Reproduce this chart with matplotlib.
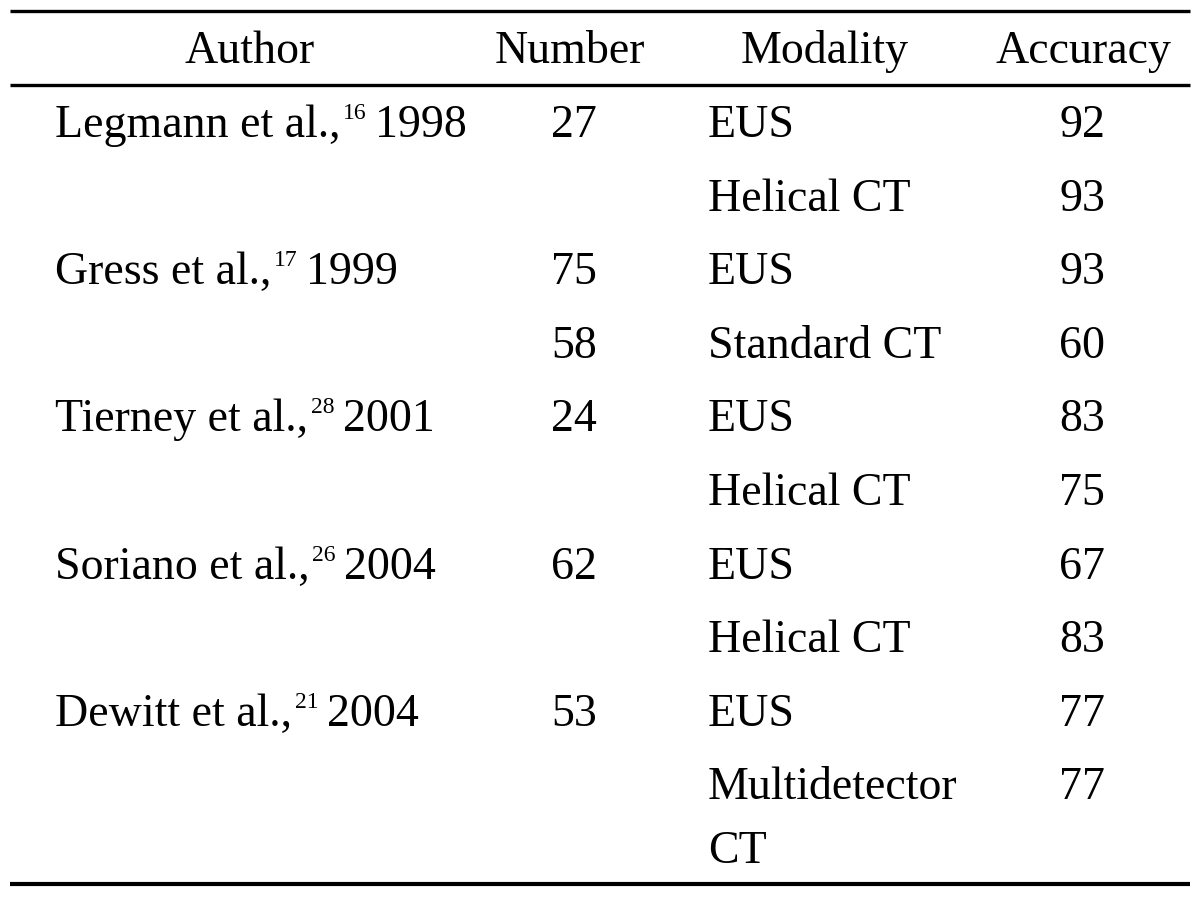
import matplotlib.pyplot as plt

headers = ["Author", "Number", "Modality", "Accuracy"]
authors = ["Legmann et al.,", "", "Gress et al.,", "", "Tierney et al.,", "",
           "Soriano et al.,", "", "Dewitt et al.,", ""]
refs = ["16", "", "17", "", "28", "", "26", "", "21", ""]
years = ["1998", "", "1999", "", "2001", "", "2004", "", "2004", ""]
numbers = ["27", "", "75", "58", "24", "", "62", "", "53", ""]
modalities = ["EUS", "Helical CT", "EUS", "Standard CT", "EUS", "Helical CT",
              "EUS", "Helical CT", "EUS", "Multidetector\nCT"]
accuracy = ["92", "93", "93", "60", "83", "75", "67", "83", "77", "77"]

font = "Liberation Serif"
fs = 33

fig = plt.figure(figsize=(12, 8.97), dpi=100)
ax = fig.add_axes([0, 0, 1, 1])
ax.set_xlim(0, 1200)
ax.set_ylim(897, 0)
ax.axis("off")

# rules
ax.plot([10, 1190], [11, 11], color="black", lw=2.4, solid_capstyle="butt")
ax.plot([10, 1190], [85, 85], color="black", lw=2.4, solid_capstyle="butt")
ax.plot([10, 1190], [884, 884], color="black", lw=3.0, solid_capstyle="butt")

hx = [250, 570, 825, 1083]
for x, h in zip(hx, headers):
    ax.text(x, 63, h, ha="center", va="baseline", fontsize=fs, family=font)

y0 = 137
dy = 73.6
for i in range(len(modalities)):
    y = y0 + i * dy
    if authors[i]:
        t = ax.text(55, y, authors[i], ha="left", va="baseline", fontsize=fs, family=font)
        s = ax.annotate(refs[i], xy=(1, y), xycoords=(t, "data"), xytext=(2, 13),
                        textcoords="offset points", ha="left", va="baseline",
                        fontsize=17, family=font)
        ax.annotate(years[i], xy=(1, y), xycoords=(s, "data"), xytext=(6, 0),
                    textcoords="offset points", ha="left", va="baseline",
                    fontsize=fs, family=font)
    if numbers[i]:
        ax.text(574, y, numbers[i], ha="center", va="baseline", fontsize=fs, family=font)
    for k, line in enumerate(modalities[i].split("\n")):
        ax.text(708, y + k * 64, line, ha="left", va="baseline", fontsize=fs, family=font)
    ax.text(1082, y, accuracy[i], ha="center", va="baseline", fontsize=fs, family=font)

fig.savefig("out.png", dpi=100)
